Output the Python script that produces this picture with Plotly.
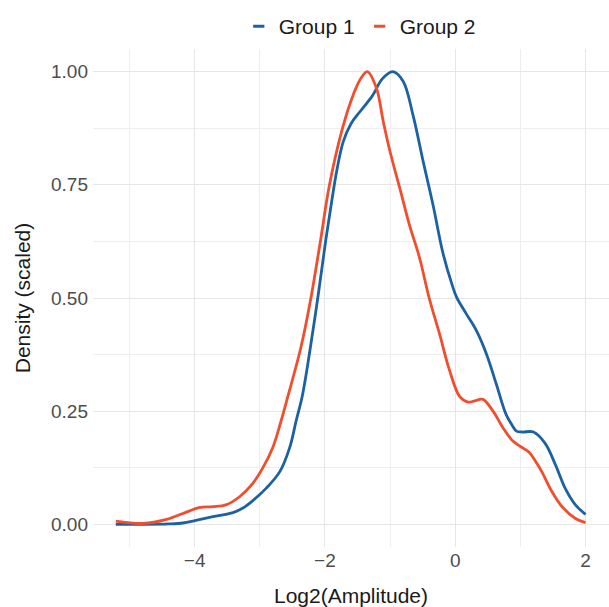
import plotly.graph_objects as go

# ---- data ----
g1_x = [-5.21, -4.8, -4.4, -4.18, -3.98, -3.72, -3.41, -3.26, -3.11, -2.90, -2.69,
        -2.54, -2.44, -2.35, -2.24, -2.11, -1.99, -1.90, -1.82, -1.72, -1.60, -1.46,
        -1.27, -1.12, -0.96, -0.80, -0.65, -0.49, -0.34, -0.19, -0.05, 0.02, 0.17,
        0.325, 0.48, 0.63, 0.78, 0.873, 0.94, 1.03, 1.20, 1.38, 1.54, 1.69, 1.845, 2.0]
g1_y = [0.0, 0.0, 0.001, 0.003, 0.009, 0.017, 0.026, 0.036, 0.052, 0.080, 0.117,
        0.170, 0.230, 0.282, 0.375, 0.500, 0.625, 0.710, 0.780, 0.845, 0.885, 0.912,
        0.947, 0.984, 1.000, 0.979, 0.905, 0.800, 0.705, 0.600, 0.530, 0.502, 0.465,
        0.428, 0.376, 0.310, 0.243, 0.219, 0.206, 0.204, 0.204, 0.179, 0.131, 0.079,
        0.043, 0.022]

g2_x = [-5.21, -4.79, -4.43, -4.18, -3.93, -3.72, -3.52, -3.31, -3.11, -2.96, -2.80,
        -2.68, -2.57, -2.37, -2.215, -2.07, -1.93, -1.73, -1.565, -1.45, -1.35, -1.21,
        -1.105, -1.0, -0.85, -0.70, -0.55, -0.40, -0.24, -0.085, 0.07, 0.2, 0.30,
        0.425, 0.58, 0.73, 0.885, 1.0, 1.13, 1.23, 1.33, 1.485, 1.64, 1.845, 2.0]
g2_y = [0.007, 0.002, 0.011, 0.024, 0.037, 0.039, 0.043, 0.061, 0.090, 0.123, 0.170,
        0.225, 0.282, 0.390, 0.500, 0.625, 0.750, 0.875, 0.949, 0.985, 1.000, 0.964,
        0.890, 0.823, 0.742, 0.660, 0.590, 0.500, 0.420, 0.339, 0.282, 0.270, 0.273,
        0.276, 0.250, 0.214, 0.184, 0.172, 0.160, 0.140, 0.116, 0.072, 0.039, 0.013, 0.004]

series_names = ["Group 1", "Group 2"]
series_colors = ["#1C62A3", "#F04E2D"]

x_tick_vals = [-4, -2, 0, 2]
x_tick_text = ["\u22124", "\u22122", "0", "2"]
x_minor_vals = [-5, -3, -1, 1]
y_tick_vals = [0, 0.25, 0.5, 0.75, 1.0]
y_tick_text = ["0.00", "0.25", "0.50", "0.75", "1.00"]
y_minor_vals = [0.125, 0.375, 0.625, 0.875]

FONT = "Liberation Sans, Arial, sans-serif"

fig = go.Figure()
for xs, ys, name, col in [(g1_x, g1_y, series_names[0], series_colors[0]),
                          (g2_x, g2_y, series_names[1], series_colors[1])]:
    fig.add_trace(go.Scatter(x=xs, y=ys, mode="lines", name=name,
                             line=dict(color=col, width=2.8, shape="spline", smoothing=1.0),
                             showlegend=False, hoverinfo="skip"))
# legend entries (short dash keys)
for name, col in zip(series_names, series_colors):
    fig.add_trace(go.Scatter(x=[None], y=[None], mode="markers", name=name,
                             marker=dict(symbol="line-ew", size=8,
                                         line=dict(color=col, width=3)),
                             showlegend=True))

fig.update_layout(
    width=609, height=607,
    margin=dict(l=93, r=0, t=49, b=60, autoexpand=False),
    paper_bgcolor="white", plot_bgcolor="white",
    font=dict(family=FONT, size=19, color="#1a1a1a"),
    showlegend=True,
    legend=dict(orientation="h", x=0.517, xref="paper", xanchor="center",
                y=0.99, yref="container", yanchor="top",
                font=dict(family=FONT, size=21, color="#1a1a1a"),
                itemwidth=30, traceorder="normal", tracegroupgap=0),
)
fig.update_xaxes(
    range=[-5.56, 2.36], tickmode="array", tickvals=x_tick_vals, ticktext=x_tick_text,
    showgrid=True, gridcolor="#e6e6e6", gridwidth=1.3, automargin=False,
    minor=dict(tickmode="array", tickvals=x_minor_vals, showgrid=True,
               gridcolor="#eeeeee", gridwidth=1),
    zeroline=False, showline=False, ticks="",
    tickfont=dict(family=FONT, size=19, color="#4d4d4d"),
    title=dict(text="Log2(Amplitude)", font=dict(family=FONT, size=21, color="#1a1a1a"),
               standoff=18),
)
fig.update_yaxes(
    range=[-0.05, 1.05], tickmode="array", tickvals=y_tick_vals, ticktext=y_tick_text,
    showgrid=True, gridcolor="#e6e6e6", gridwidth=1.3, automargin=False,
    minor=dict(tickmode="array", tickvals=y_minor_vals, showgrid=True,
               gridcolor="#eeeeee", gridwidth=1),
    zeroline=False, showline=False, ticks="", ticklabelstandoff=4,
    tickfont=dict(family=FONT, size=19, color="#4d4d4d"),
    title=dict(text="Density (scaled)", font=dict(family=FONT, size=21, color="#1a1a1a"),
               standoff=14),
)

fig.write_html("out.html", config={"displayModeBar": False},
               post_script="document.body.style.margin='0px';document.body.style.overflow='hidden';")
